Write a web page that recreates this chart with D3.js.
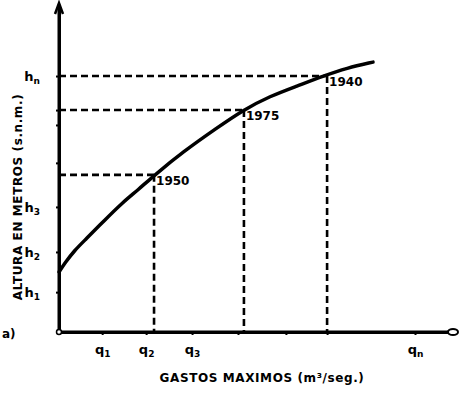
<!DOCTYPE html>
<html><head><meta charset="utf-8">
<script src="https://cdn.jsdelivr.net/npm/d3@7"></script>
<style>body{margin:0;background:#fff}svg{display:block}</style>
</head><body><svg id="c" width="460" height="394"></svg>
<script>
// Curve: gasto (q) vs altura (h), arbitrary units
const curveQ = [0, 1.5, 4.0, 6.6, 11.6, 15.9, 19.9, 24.2, 31.3, 39.9, 46.5, 53.3, 60.1, 66.7, 72.7, 79.3];
const curveH = [18.5, 21.3, 25.3, 28.4, 34.6, 39.8, 43.8, 48.5, 55.6, 63.0, 68.5, 72.8, 75.9, 79.0, 81.5, 83.3];
// Historic floods
const eventYears = ["1950", "1975", "1940"];
const eventQ = [24.0, 46.7, 67.7];
const eventH = [48.5, 68.5, 79.0];
// Axis ticks
const xTickVals = [10.9, 22.0, 33.6, 45.2, 57.3, 67.7, 89.9];
const xTickLabels = ["q|1", "q|2", "q|3", "", "", "", "q|n"];
const yTickVals = [79.0, 68.5, 63.9, 52.2, 38.6, 24.7, 12.3];
const yTickLabels = ["h|n", "", "", "", "h|3", "h|2", "h|1"];
const xTitle = "GASTOS MAXIMOS (m³/seg.)";
const yTitle = "ALTURA EN METROS (s.n.m.)";
const panelLabel = "a)";

const svg = d3.select("#c");
const x = d3.scaleLinear().domain([0, 100]).range([59, 455]);
const y = d3.scaleLinear().domain([0, 100]).range([332, 8]);
const font = "'DejaVu Sans', sans-serif";

// dashed guides
const dash = svg.append("g").attr("stroke", "#000").attr("stroke-width", 2.6).attr("stroke-dasharray", "7,4").attr("fill", "none");
eventQ.forEach((q, i) => {
  dash.append("line").attr("x1", x(0)).attr("x2", x(q)).attr("y1", y(eventH[i])).attr("y2", y(eventH[i]));
  dash.append("line").attr("x1", x(q)).attr("x2", x(q)).attr("y1", y(eventH[i])).attr("y2", y(0));
});

// axes
function label(sel, txt) {
  const parts = txt.split("|");
  sel.text(null);
  if (!parts[0]) return;
  sel.append("tspan").text(parts[0]);
  sel.append("tspan").attr("font-size", 9).attr("dy", 3).text(parts[1]);
}
const xAxis = d3.axisBottom(x).tickValues(xTickVals).tickSizeInner(3).tickSizeOuter(0).tickPadding(10).tickFormat(() => "");
const gx = svg.append("g").attr("transform", `translate(0,${y(0)})`).call(xAxis);
gx.selectAll(".tick text").each(function(d, i) { label(d3.select(this), xTickLabels[i]); });
const yAxis = d3.axisLeft(y).tickValues(yTickVals).tickSizeInner(3).tickSizeOuter(0).tickPadding(16).tickFormat(() => "");
const gy = svg.append("g").attr("transform", `translate(${x(0)},0)`).call(yAxis);
gy.selectAll(".tick text").each(function(d, i) { label(d3.select(this), yTickLabels[i]); });
[gx, gy].forEach(g => {
  g.select(".domain").attr("stroke-width", 3);
  g.selectAll(".tick line").attr("stroke-width", 2);
  g.selectAll(".tick text").attr("font-family", font).attr("font-weight", "bold").attr("font-size", 13).attr("fill", "#000");
});
// extend axes to arrows
svg.append("line").attr("x1", x(0)).attr("x2", x(0)).attr("y1", y(0)).attr("y2", 6).attr("stroke", "#000").attr("stroke-width", 3);
svg.append("line").attr("x1", x(0)).attr("x2", 456).attr("y1", y(0)).attr("y2", y(0)).attr("stroke", "#000").attr("stroke-width", 3);
svg.append("path").attr("d", `M${x(0)-4},14 L${x(0)},3 L${x(0)+4},14`).attr("fill", "none").attr("stroke", "#000").attr("stroke-width", 2.5);
svg.append("ellipse").attr("cx", 453).attr("cy", y(0)).attr("rx", 5).attr("ry", 3).attr("fill", "#fff").attr("stroke", "#000").attr("stroke-width", 2);
svg.append("circle").attr("cx", x(0)).attr("cy", y(0)).attr("r", 2.5).attr("fill", "#fff").attr("stroke", "#000").attr("stroke-width", 1.5);

// curve
const pts = curveQ.map((q, i) => [q, curveH[i]]);
svg.append("path").datum(pts)
  .attr("d", d3.line().x(d => x(d[0])).y(d => y(d[1])).curve(d3.curveBasis))
  .attr("fill", "none").attr("stroke", "#000").attr("stroke-width", 3.5).attr("stroke-linecap", "round");

// event labels
eventYears.forEach((t, i) => {
  svg.append("text").attr("x", x(eventQ[i]) + 2).attr("y", y(eventH[i]) + 10)
    .attr("font-family", font).attr("font-weight", "bold").attr("font-size", 12).text(t);
});

// titles
svg.append("text").attr("x", 262).attr("y", 382).attr("text-anchor", "middle")
  .attr("font-family", font).attr("font-weight", "bold").attr("font-size", 12).attr("letter-spacing", 0.6).text(xTitle);
svg.append("text").attr("transform", "translate(22,197) rotate(-90)").attr("text-anchor", "middle")
  .attr("font-family", font).attr("font-weight", "bold").attr("font-size", 12).attr("letter-spacing", 0.6).text(yTitle);
svg.append("text").attr("x", 2).attr("y", 338)
  .attr("font-family", font).attr("font-weight", "bold").attr("font-size", 12).text(panelLabel);
</script></body></html>
